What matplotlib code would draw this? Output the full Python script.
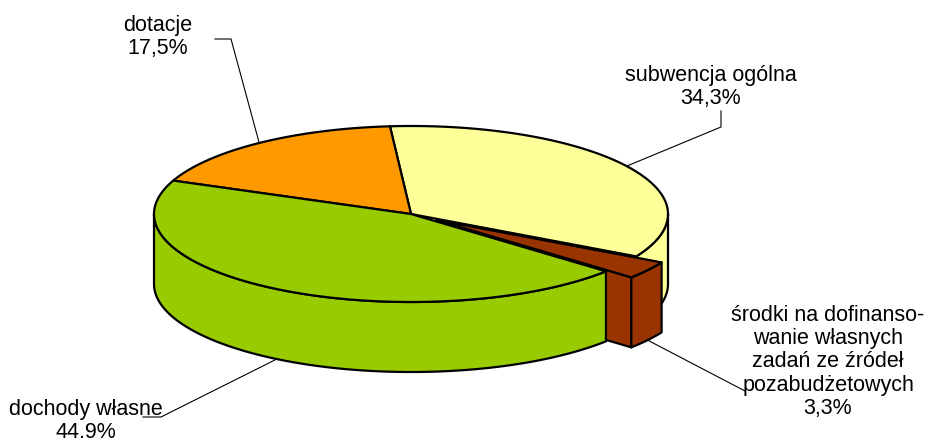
import numpy as np
from matplotlib import pyplot as plt
from matplotlib.patches import Polygon

plt.rcParams['font.family'] = ['Liberation Sans', 'DejaVu Sans']

# slices in Excel order (clockwise from the top)
labels = ['subwencja ogólna', 'środki na dofinanso-\nwanie własnych\nzadań ze źródeł\npozabudżetowych',
          'dochody własne', 'dotacje']
pct_text = ['34,3%', '3,3%', '44,9%', '17,5%']
shares = [34.3, 3.3, 44.9, 17.5]
colors = ['#FFFF99', '#993300', '#99CC00', '#FF9900']
explode = [0, 0.12, 0, 0]

# label anchor (where leader line ends) and text centre, in pixels
label_xy = [(711, 87), (828, 362), (86, 421), (158, 37)]
leader_end = [[(721, 128), (721, 112)], [(745, 392)], [(161, 418), (143, 418)],
              [(231, 40), (215, 40)]]

W, H = 925, 439
cx, cy, rx, ry, depth = 411, 215, 257, 88, 70
start = 94.7

fig = plt.figure(figsize=(W / 100, H / 100), dpi=100)
ax = fig.add_axes([0, 0, 1, 1])
ax.set_xlim(0, W)
ax.set_ylim(H, 0)
ax.axis('off')

# angles (ccw, degrees): slice i runs from a1 to a2
bounds = []
a = start
for s in shares:
    a2 = a
    a1 = a - s * 3.6
    bounds.append((a1, a2))
    a = a1


def pt(t, r=1.0, z=0.0, sh=(0, 0)):
    t = np.radians(t)
    return (cx + rx * r * np.cos(t) + sh[0], cy - ry * r * np.sin(t) + z + sh[1])


def shift_of(i):
    m = np.radians(np.mean(bounds[i]))
    return (rx * explode[i] * np.cos(m), -ry * explode[i] * np.sin(m))


def arc(a1, a2, z=0.0, sh=(0, 0)):
    ts = np.linspace(a1, a2, max(int(abs(a2 - a1) * 2), 2))
    return [pt(t, 1.0, z, sh) for t in ts]


def top_face(i):
    a1, a2 = bounds[i]
    sh = shift_of(i)
    verts = [pt(0, 0, 0, sh)] + arc(a1, a2, 0, sh)
    ax.add_patch(Polygon(verts, closed=True, fc=colors[i], ec='black', lw=1.6, joinstyle='round'))


def walls(i):
    a1, a2 = bounds[i]
    sh = shift_of(i)
    for k in range(-2, 2):
        lo, hi = max(a1, 180 + 360 * k), min(a2, 360 + 360 * k)
        if hi > lo:
            verts = arc(lo, hi, 0, sh) + arc(hi, lo, depth, sh)
            ax.add_patch(Polygon(verts, closed=True, fc=colors[i], ec='black', lw=1.6, joinstyle='round'))


def radial(i, t):
    sh = shift_of(i)
    verts = [pt(t, 0, 0, sh), pt(t, 1, 0, sh), pt(t, 1, depth, sh), pt(t, 0, depth, sh)]
    ax.add_patch(Polygon(verts, closed=True, fc=colors[i], ec='black', lw=1.6, joinstyle='round'))


# back parts first, exploded slice, then the front slice
walls(0)
top_face(0)
top_face(3)
radial(1, bounds[1][0])
walls(1)
top_face(1)
walls(2)
top_face(2)

# labels with leader lines
for i in range(len(shares)):
    m = np.mean(bounds[i]) % 360
    z = depth if np.sin(np.radians(m)) < 0 else 0
    p0 = pt(m, 1.0, z, shift_of(i))
    xs = [p0[0]] + [p[0] for p in leader_end[i]]
    ys = [p0[1]] + [p[1] for p in leader_end[i]]
    ax.plot(xs, ys, color='black', lw=0.8)
    ax.text(label_xy[i][0], label_xy[i][1], labels[i] + '\n' + pct_text[i],
            ha='center', va='center', fontsize=15.5, linespacing=1.13, color='black')

fig.savefig('out.png', dpi=100)
